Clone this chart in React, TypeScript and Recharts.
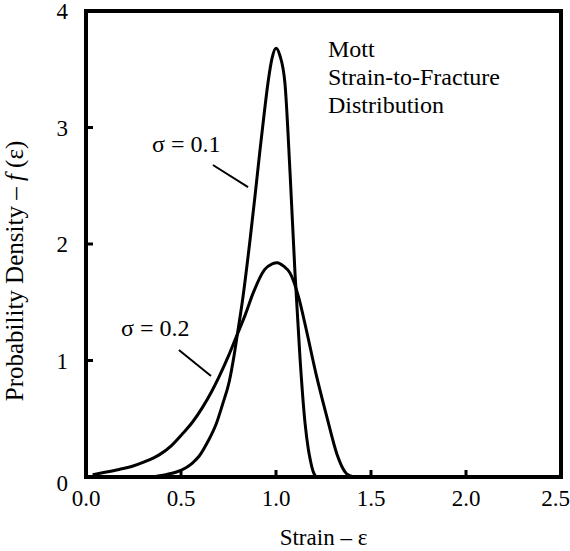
import React from 'react';
import {
  LineChart,
  Line,
  XAxis,
  YAxis,
  ReferenceArea,
  ReferenceLine,
  Customized,
} from 'recharts';

const FONT = "'Liberation Serif', 'Times New Roman', serif";

const xTicks = [0, 0.5, 1.0, 1.5, 2.0, 2.5];
const yTicks = [0, 1, 2, 3, 4];

// sigma = 0.1 curve
const sigma01 = [
  { e: 0.34, f: 0 },
  { e: 0.42, f: 0.02 },
  { e: 0.48, f: 0.045 },
  { e: 0.526, f: 0.08 },
  { e: 0.56, f: 0.12 },
  { e: 0.596, f: 0.18 },
  { e: 0.64, f: 0.3 },
  { e: 0.684, f: 0.45 },
  { e: 0.72, f: 0.63 },
  { e: 0.754, f: 0.82 },
  { e: 0.78, f: 1.05 },
  { e: 0.8, f: 1.26 },
  { e: 0.824, f: 1.52 },
  { e: 0.863, f: 2.03 },
  { e: 0.89, f: 2.42 },
  { e: 0.916, f: 2.81 },
  { e: 0.94, f: 3.15 },
  { e: 0.96, f: 3.41 },
  { e: 0.98, f: 3.6 },
  { e: 1.0, f: 3.68 },
  { e: 1.02, f: 3.62 },
  { e: 1.047, f: 3.38 },
  { e: 1.074, f: 2.61 },
  { e: 1.1, f: 1.75 },
  { e: 1.126, f: 1.03 },
  { e: 1.153, f: 0.46 },
  { e: 1.17, f: 0.24 },
  { e: 1.18, f: 0.15 },
  { e: 1.195, f: 0.05 },
  { e: 1.21, f: 0 },
];

// sigma = 0.2 curve
const sigma02 = [
  { e: 0.035, f: 0.02 },
  { e: 0.1, f: 0.04 },
  { e: 0.175, f: 0.065 },
  { e: 0.24, f: 0.09 },
  { e: 0.3, f: 0.125 },
  { e: 0.385, f: 0.19 },
  { e: 0.45, f: 0.27 },
  { e: 0.51, f: 0.375 },
  { e: 0.56, f: 0.47 },
  { e: 0.614, f: 0.6 },
  { e: 0.66, f: 0.73 },
  { e: 0.7, f: 0.86 },
  { e: 0.75, f: 1.04 },
  { e: 0.79, f: 1.2 },
  { e: 0.84, f: 1.4 },
  { e: 0.88, f: 1.58 },
  { e: 0.94, f: 1.78 },
  { e: 0.98, f: 1.83 },
  { e: 1.007, f: 1.84 },
  { e: 1.04, f: 1.81 },
  { e: 1.074, f: 1.75 },
  { e: 1.118, f: 1.55 },
  { e: 1.16, f: 1.26 },
  { e: 1.21, f: 0.89 },
  { e: 1.267, f: 0.52 },
  { e: 1.32, f: 0.2 },
  { e: 1.35, f: 0.08 },
  { e: 1.37, f: 0.03 },
  { e: 1.41, f: 0 },
];

const noteLines = ['Mott', 'Strain-to-Fracture', 'Distribution'];

const YTick = (props: any) => {
  const { x, y, payload } = props;
  return (
    <text x={x} y={y + (payload.value === 0 ? 6 : 0)} dy="0.35em" textAnchor="end" fill="#000" fontSize={23} fontFamily={FONT}>
      {payload.value}
    </text>
  );
};

const Notes = () => (
  <g>
    {noteLines.map((t, i) => (
      <text key={t} x={328} y={57 + i * 28} fontSize={24} fontFamily={FONT} fill="#000">{t}</text>
    ))}
    <text x={152} y={152} fontSize={24} fontFamily={FONT} fill="#000">σ = 0.1</text>
    <text x={121} y={336} fontSize={24} fontFamily={FONT} fill="#000">σ = 0.2</text>
  </g>
);

export default function App() {
  return (
    <div style={{ position: 'absolute', left: 0, top: 0, background: '#fff' }}>
      <LineChart width={570} height={551} margin={{ top: 11, right: 9, bottom: 0, left: 0 }}>
        <XAxis
          dataKey="e"
          type="number"
          domain={[0, 2.5]}
          ticks={xTicks}
          tickFormatter={(v: number) => v.toFixed(1)}
          allowDataOverflow
          axisLine={false}
          tickSize={-7}
          tickMargin={20}
          tickLine={{ stroke: '#000', strokeWidth: 3 }}
          tick={{ fill: '#000', fontSize: 23, fontFamily: FONT }}
          height={74}
          label={{ value: 'Strain – ε', position: 'insideBottom', offset: 6, fill: '#000', fontSize: 23, fontFamily: FONT }}
        />
        <YAxis
          type="number"
          domain={[0, 4]}
          ticks={yTicks}
          allowDataOverflow
          axisLine={false}
          width={86}
          tickSize={-7}
          tickMargin={25}
          tickLine={{ stroke: '#000', strokeWidth: 3 }}
          tick={<YTick />}
          label={{
            content: () => (
              <text
                x={23}
                y={271}
                transform="rotate(-90, 23, 271)"
                textAnchor="middle"
                fill="#000"
                fontSize={25}
                fontFamily={FONT}
              >
                Probability Density – <tspan fontStyle="italic">f</tspan> (ε)
              </text>
            ),
          }}
        />
        <ReferenceArea x1={0} x2={2.5} y1={0} y2={4} fill="none" stroke="#000" strokeWidth={4} ifOverflow="visible" />
        <ReferenceLine segment={[{ x: 0.668, y: 2.678 }, { x: 0.853, y: 2.489 }]} stroke="#000" strokeWidth={2} />
        <ReferenceLine segment={[{ x: 0.489, y: 1.09 }, { x: 0.658, y: 0.867 }]} stroke="#000" strokeWidth={2} />
        <Line data={sigma01} dataKey="f" type="monotone" stroke="#000" strokeWidth={3} dot={false} isAnimationActive={false} />
        <Line data={sigma02} dataKey="f" type="monotone" stroke="#000" strokeWidth={3} dot={false} isAnimationActive={false} />
        <Customized component={Notes} />
      </LineChart>
    </div>
  );
}
